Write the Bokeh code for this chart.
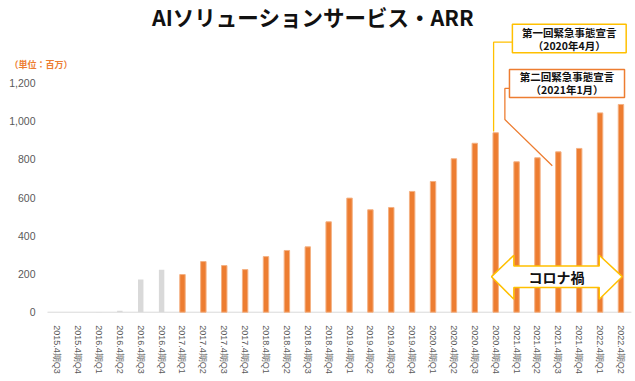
from bokeh.plotting import figure
from bokeh.models import (Range1d, FixedTicker, NumeralTickFormatter, Label,
                          BoxAnnotation, ColumnDataSource)
from bokeh.embed import file_html
from bokeh.resources import INLINE

categories = [
    "2015.4期Q3", "2015.4期Q4",
    "2016.4期Q1", "2016.4期Q2", "2016.4期Q3", "2016.4期Q4",
    "2017.4期Q1", "2017.4期Q2", "2017.4期Q3", "2017.4期Q4",
    "2018.4期Q1", "2018.4期Q2", "2018.4期Q3", "2018.4期Q4",
    "2019.4期Q1", "2019.4期Q2", "2019.4期Q3", "2019.4期Q4",
    "2020.4期Q1", "2020.4期Q2", "2020.4期Q3", "2020.4期Q4",
    "2021.4期Q1", "2021.4期Q2", "2021.4期Q3", "2021.4期Q4",
    "2022.4期Q1", "2022.4期Q2",
]
arr_values = [
    0, 0, 1, 8, 171, 222,
    197, 265, 244, 223,
    291, 323, 342, 473,
    597, 536, 548, 632,
    684, 803, 884, 939,
    787, 808, 839, 857,
    1043, 1087,
]
# first 6 quarters grey, rest orange
grey_count = 6
y_ticks = [0, 200, 400, 600, 800, 1000, 1200]

title_text = "AIソリューションサービス・ARR"
unit_text = "（単位：百万）"
corona_text = "コロナ禍"

ORANGE = "#ED7D31"
GREY = "#D9D9D9"
YELLOW = "#FFC000"
TXT = "#595959"

idx = list(range(len(categories)))
colors = [GREY if i < grey_count else ORANGE for i in idx]
line_alpha = [0.0 if i < grey_count else 1.0 for i in idx]
src = ColumnDataSource(dict(x=idx, top=arr_values, color=colors, la=line_alpha))

X0 = -0.465          # left edge of the category area (where the y axis sits)
X1 = 27.5

p = figure(width=635, height=381, output_backend="svg", toolbar_location=None,
           x_range=Range1d(-2.7155, 27.696), y_range=Range1d(-362.6, 1631.1),
           min_border=0)
p.outline_line_color = None
p.grid.grid_line_color = None
p.background_fill_color = "white"

# baseline
p.segment(x0=[X0], x1=[X1], y0=[0], y1=[0], line_color=GREY, line_width=1)

p.vbar(x="x", top="top", width=0.26, bottom=0, source=src,
       fill_color="color", line_color="#F4B183", line_alpha="la", line_width=1)

# axes
xa = p.xaxis[0]
xa.fixed_location = 0
xa.ticker = FixedTicker(ticks=idx)
xa.major_label_overrides = {i: c for i, c in zip(idx, categories)}
xa.major_label_orientation = "vertical"
xa.major_label_text_font = "Liberation Sans"
xa.major_label_text_font_size = "9px"
xa.major_label_text_color = TXT
xa.major_label_standoff = 7
xa.axis_line_color = None
xa.major_tick_line_color = None
xa.minor_tick_line_color = None

ya = p.yaxis[0]
ya.fixed_location = X0
ya.ticker = FixedTicker(ticks=y_ticks)
ya.formatter = NumeralTickFormatter(format="0,0")
ya.major_label_text_font = "Liberation Sans"
ya.major_label_text_font_size = "10.5px"
ya.major_label_text_color = TXT
ya.major_label_standoff = 6
ya.axis_line_color = None
ya.major_tick_line_color = None
ya.minor_tick_line_color = None

# title
p.add_layout(Label(x=12.25, y=1545, text=title_text, text_font="Noto Sans CJK JP",
                   text_font_style="bold", text_font_size="21.5px", text_color="#111111",
                   text_align="center", text_baseline="middle"))
# unit
p.add_layout(Label(x=-2.28, y=1298, text=unit_text, text_font="Noto Sans CJK JP",
                   text_font_style="bold", text_font_size="9px", text_color=ORANGE,
                   text_align="left", text_baseline="middle"))

# leader lines
p.line(x=[21.80, 20.90, 20.90], y=[1413, 1413, 946], line_color=YELLOW, line_width=1.3)
p.line(x=[21.66, 21.44, 21.44, 23.71], y=[1171, 1171, 1008, 766],
       line_color=ORANGE, line_width=1.3)

# annotation boxes
p.add_layout(BoxAnnotation(left=21.80, right=27.25, bottom=1358, top=1507,
                           fill_color="white", fill_alpha=1, line_color=YELLOW,
                           line_width=1.5, line_alpha=1))
p.add_layout(BoxAnnotation(left=21.66, right=27.17, bottom=1123, top=1270,
                           fill_color="white", fill_alpha=1, line_color=ORANGE,
                           line_width=1.5, line_alpha=1))
for (tx, ty, t) in [(24.52, 1464, "第一回緊急事態宣言"), (24.52, 1397, "（2020年4月）"),
                    (24.42, 1231, "第二回緊急事態宣言"), (24.42, 1167, "（2021年1月）")]:
    p.add_layout(Label(x=tx, y=ty, text=t, text_font="Noto Sans CJK JP",
                       text_font_style="bold", text_font_size="10.5px",
                       text_color="#111111", text_align="center", text_baseline="middle"))

# double arrow (corona period)
ax = [20.80, 21.87, 21.87, 25.96, 25.96, 27.06, 25.96, 25.96, 21.87, 21.87]
ay = [186, 298, 242, 242, 298, 186, 68, 129, 129, 68]
p.patch(x=ax, y=ay, fill_color="white", line_color=YELLOW, line_width=1.5)
p.add_layout(Label(x=23.91, y=186, text=corona_text, text_font="Noto Sans CJK JP",
                   text_font_style="bold", text_font_size="14px", text_color="#111111",
                   text_align="center", text_baseline="middle"))

open("out.html", "w").write(file_html(p, INLINE))
